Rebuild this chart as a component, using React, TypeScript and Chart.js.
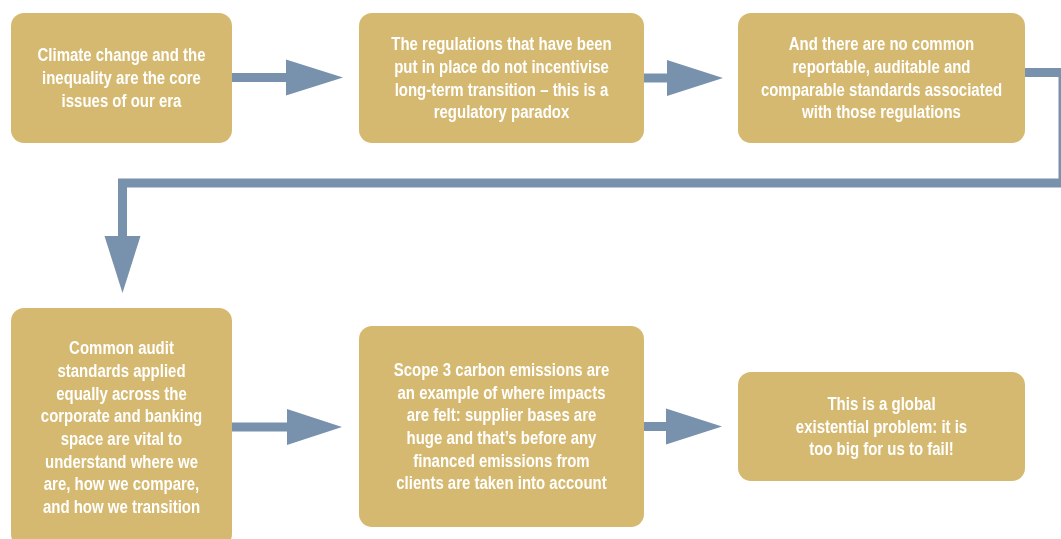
import React, { useEffect, useRef } from "react";
import { Chart, registerables } from "chart.js";

Chart.register(...registerables);

// ---- Content ----
const nodeTexts: string[][] = [
  ["Climate change and the", "inequality are the core", "issues of our era"],
  ["The regulations that have been", "put in place do not incentivise", "long-term transition \u2013 this is a", "regulatory paradox"],
  ["And there are no common", "reportable, auditable and", "comparable standards associated", "with those regulations"],
  ["Common audit", "standards applied", "equally across the", "corporate and banking", "space are vital to", "understand where we", "are, how we compare,", "and how we transition"],
  ["Scope 3 carbon emissions are", "an example of where impacts", "are felt: supplier bases are", "huge and that\u2019s before any", "financed emissions from", "clients are taken into account"],
  ["This is a global", "existential problem: it is", "too big for us to fail!"],
];

// ---- Layout (diagram units, 0..1061 x 0..539) ----
const LAYOUT = {
  width: 1061,
  height: 539,
  boxes: [
    { x0: 11, y0: 13, x1: 232, y1: 143 },
    { x0: 359, y0: 13, x1: 644, y1: 143 },
    { x0: 738, y0: 13, x1: 1025, y1: 143 },
    { x0: 11, y0: 308, x1: 232, y1: 547 },
    { x0: 359, y0: 326, x1: 644, y1: 527 },
    { x0: 738, y0: 372, x1: 1025, y1: 481 },
  ],
  connectors: [
    { pts: [[232, 77.5], [287, 77.5]], head: { len: 57, half: 18 } },
    { pts: [[644, 78], [668, 78]], head: { len: 56, half: 18 } },
    { pts: [[1025, 72.5], [1063, 72.5], [1063, 183], [122.5, 183], [122.5, 237]], head: { len: 57, half: 18 } },
    { pts: [[232, 427], [288, 427]], head: { len: 55, half: 18 } },
    { pts: [[644, 426.5], [667, 426.5]], head: { len: 56, half: 18 } },
  ],
};

const BOX_COLOR = "#D5B970";
const ARROW_COLOR = "#7892AD";
const TEXT_COLOR = "#FFFFFF";
const FONT = 'bold 18.8px "Liberation Sans", Arial, sans-serif';
const LINE_H = 22.7;
const SAMPLE_LINE = "Climate change and the";
const SAMPLE_WIDTH = 168;

const flowPlugin = {
  id: "flow",
  beforeDatasetsDraw(chart: any) {
    const { ctx, scales } = chart;
    const xs = scales.x, ys = scales.y;
    ctx.save();
    LAYOUT.boxes.forEach((b) => {
      const x0 = xs.getPixelForValue(b.x0), x1 = xs.getPixelForValue(b.x1);
      const y0 = ys.getPixelForValue(b.y0), y1 = ys.getPixelForValue(b.y1);
      ctx.beginPath();
      ctx.roundRect(x0, y0, x1 - x0, y1 - y0, 13);
      ctx.fillStyle = BOX_COLOR;
      ctx.fill();
    });
    ctx.restore();
  },
  afterDatasetsDraw(chart: any) {
    const { ctx, scales } = chart;
    const xs = scales.x, ys = scales.y;
    ctx.save();
    // arrowheads
    LAYOUT.connectors.forEach((c) => {
      const n = c.pts.length;
      const [ax, ay] = c.pts[n - 2];
      const [bx, by] = c.pts[n - 1];
      const dx = Math.sign(bx - ax), dy = Math.sign(by - ay);
      const px = -dy, py = dx;
      const baseX = bx - dx, baseY = by - dy;
      const tipX = baseX + dx * c.head.len, tipY = baseY + dy * c.head.len;
      ctx.beginPath();
      ctx.moveTo(xs.getPixelForValue(baseX + px * c.head.half), ys.getPixelForValue(baseY + py * c.head.half));
      ctx.lineTo(xs.getPixelForValue(tipX), ys.getPixelForValue(tipY));
      ctx.lineTo(xs.getPixelForValue(baseX - px * c.head.half), ys.getPixelForValue(baseY - py * c.head.half));
      ctx.closePath();
      ctx.fillStyle = ARROW_COLOR;
      ctx.fill();
    });
    // texts (horizontally condensed)
    ctx.font = FONT;
    const sx = SAMPLE_WIDTH / ctx.measureText(SAMPLE_LINE).width;
    ctx.fillStyle = TEXT_COLOR;
    ctx.textAlign = "center";
    ctx.textBaseline = "middle";
    LAYOUT.boxes.forEach((b, i) => {
      const lines = nodeTexts[i];
      const cx = xs.getPixelForValue((b.x0 + b.x1) / 2);
      const cy = ys.getPixelForValue((b.y0 + b.y1) / 2);
      const start = cy - ((lines.length - 1) * LINE_H) / 2;
      lines.forEach((t, k) => {
        ctx.save();
        ctx.translate(cx, start + k * LINE_H + 1);
        ctx.scale(sx, 1);
        ctx.fillText(t, 0, 0);
        ctx.restore();
      });
    });
    ctx.restore();
  },
};

export default function App() {
  const ref = useRef<HTMLCanvasElement | null>(null);
  useEffect(() => {
    if (!ref.current) return;
    const chart = new Chart(ref.current, {
      type: "scatter",
      data: {
        datasets: LAYOUT.connectors.map((c) => ({
          data: c.pts.map(([x, y]) => ({ x, y })),
          showLine: true,
          borderColor: ARROW_COLOR,
          borderWidth: 9,
          pointRadius: 0,
          tension: 0,
          borderJoinStyle: "miter" as const,
          borderCapStyle: "butt" as const,
        })),
      },
      options: {
        animation: false,
        responsive: true,
        maintainAspectRatio: false,
        layout: { padding: 0 },
        plugins: { legend: { display: false }, tooltip: { enabled: false } },
        scales: {
          x: { type: "linear", min: 0, max: LAYOUT.width, display: false },
          y: { type: "linear", min: 0, max: LAYOUT.height, reverse: true, display: false },
        },
      },
      plugins: [flowPlugin],
    });
    return () => chart.destroy();
  }, []);
  return (
    <div style={{ position: "fixed", left: 0, top: 0, width: 1061, height: 539, background: "#fff" }}>
      <canvas ref={ref} />
    </div>
  );
}
